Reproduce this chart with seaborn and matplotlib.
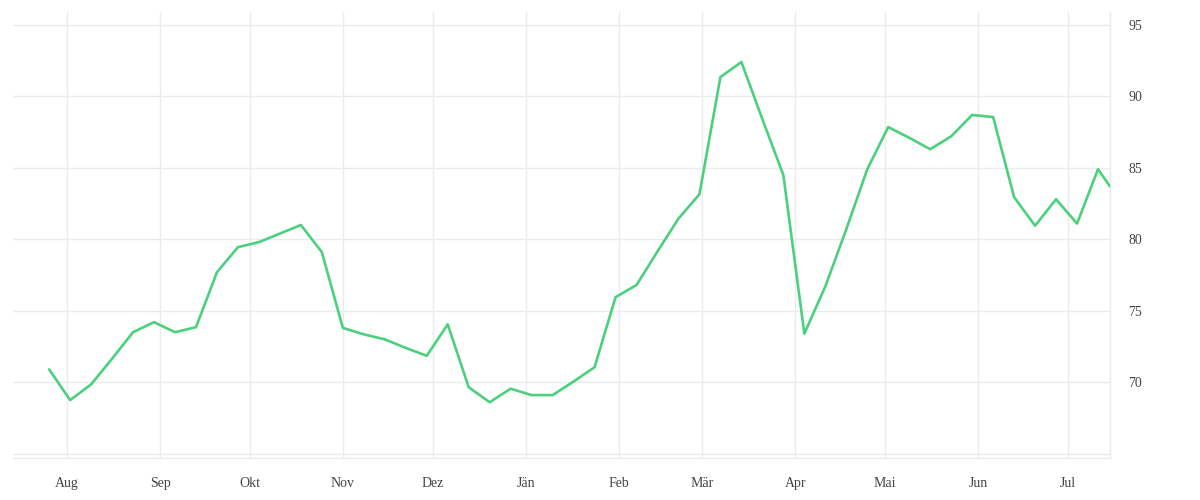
import pandas as pd
import numpy as np
import matplotlib
matplotlib.use('Agg')
import matplotlib.pyplot as plt
import seaborn as sns

# wöchentliche Werte (ab 26.07.2022), letzter Punkt am 15.07.2023
dates = list(pd.date_range('2022-07-26', periods=51, freq='7D')) + [pd.Timestamp('2023-07-15')]
values = [70.9, 68.75, 69.85, 71.65, 73.5, 74.2, 73.5, 73.85, 77.7, 79.45,
          79.8, 80.4, 81.0, 79.1, 73.8, 73.35, 73.0, 72.4, 71.85, 74.05,
          69.65, 68.6, 69.55, 69.1, 69.1, 70.05, 71.05, 75.95, 76.8, 79.15,
          81.45, 83.15, 91.35, 92.4, 88.4, 84.5, 73.4, 76.7, 80.7, 84.9,
          87.85, 87.1, 86.3, 87.2, 88.7, 88.55, 82.95, 80.95, 82.8, 81.1,
          84.9, 83.7]

month_starts = pd.date_range('2022-08-01', periods=12, freq='MS')
month_labels = ['Aug', 'Sep', 'Okt', 'Nov', 'Dez', 'Jän', 'Feb', 'Mär', 'Apr', 'Mai', 'Jun', 'Jul']
y_ticks = [65, 70, 75, 80, 85, 90, 95]
y_labels = ['', '70', '75', '80', '85', '90', '95']

df = pd.DataFrame({'datum': dates, 'wert': values})

sns.set_style('white')
plt.rcParams['font.family'] = ['Liberation Serif', 'DejaVu Serif']

grid_col = '#ebebeb'
fig = plt.figure(figsize=(12, 5), dpi=100)
ax = fig.add_axes([0.011, 0.084, 0.914, 0.892])

sns.lineplot(data=df, x='datum', y='wert', ax=ax, color='#4cd07d', linewidth=1.9, zorder=3)

ax.set_xlim(pd.Timestamp('2022-07-14'), dates[-1])
ax.set_ylim(64.7, 95.9)

ax.set_xticks(list(month_starts) + [dates[-1]])
ax.set_xticklabels(month_labels + [''])
ax.set_yticks(y_ticks)
ax.set_yticklabels(y_labels)
ax.yaxis.tick_right()

ax.grid(True, color=grid_col, linewidth=1, zorder=0)
ax.set_axisbelow(True)

for s in ['top', 'left']:
    ax.spines[s].set_visible(False)
for s in ['bottom', 'right']:
    ax.spines[s].set_color(grid_col)
    ax.spines[s].set_linewidth(1)

ax.tick_params(axis='x', length=6, width=1, color=grid_col, labelsize=10, labelcolor='#444444', pad=8)
ax.tick_params(axis='y', length=0, labelsize=10, labelcolor='#444444', pad=13)
ax.set_xlabel('')
ax.set_ylabel('')

fig.savefig('out.png', dpi=100)
